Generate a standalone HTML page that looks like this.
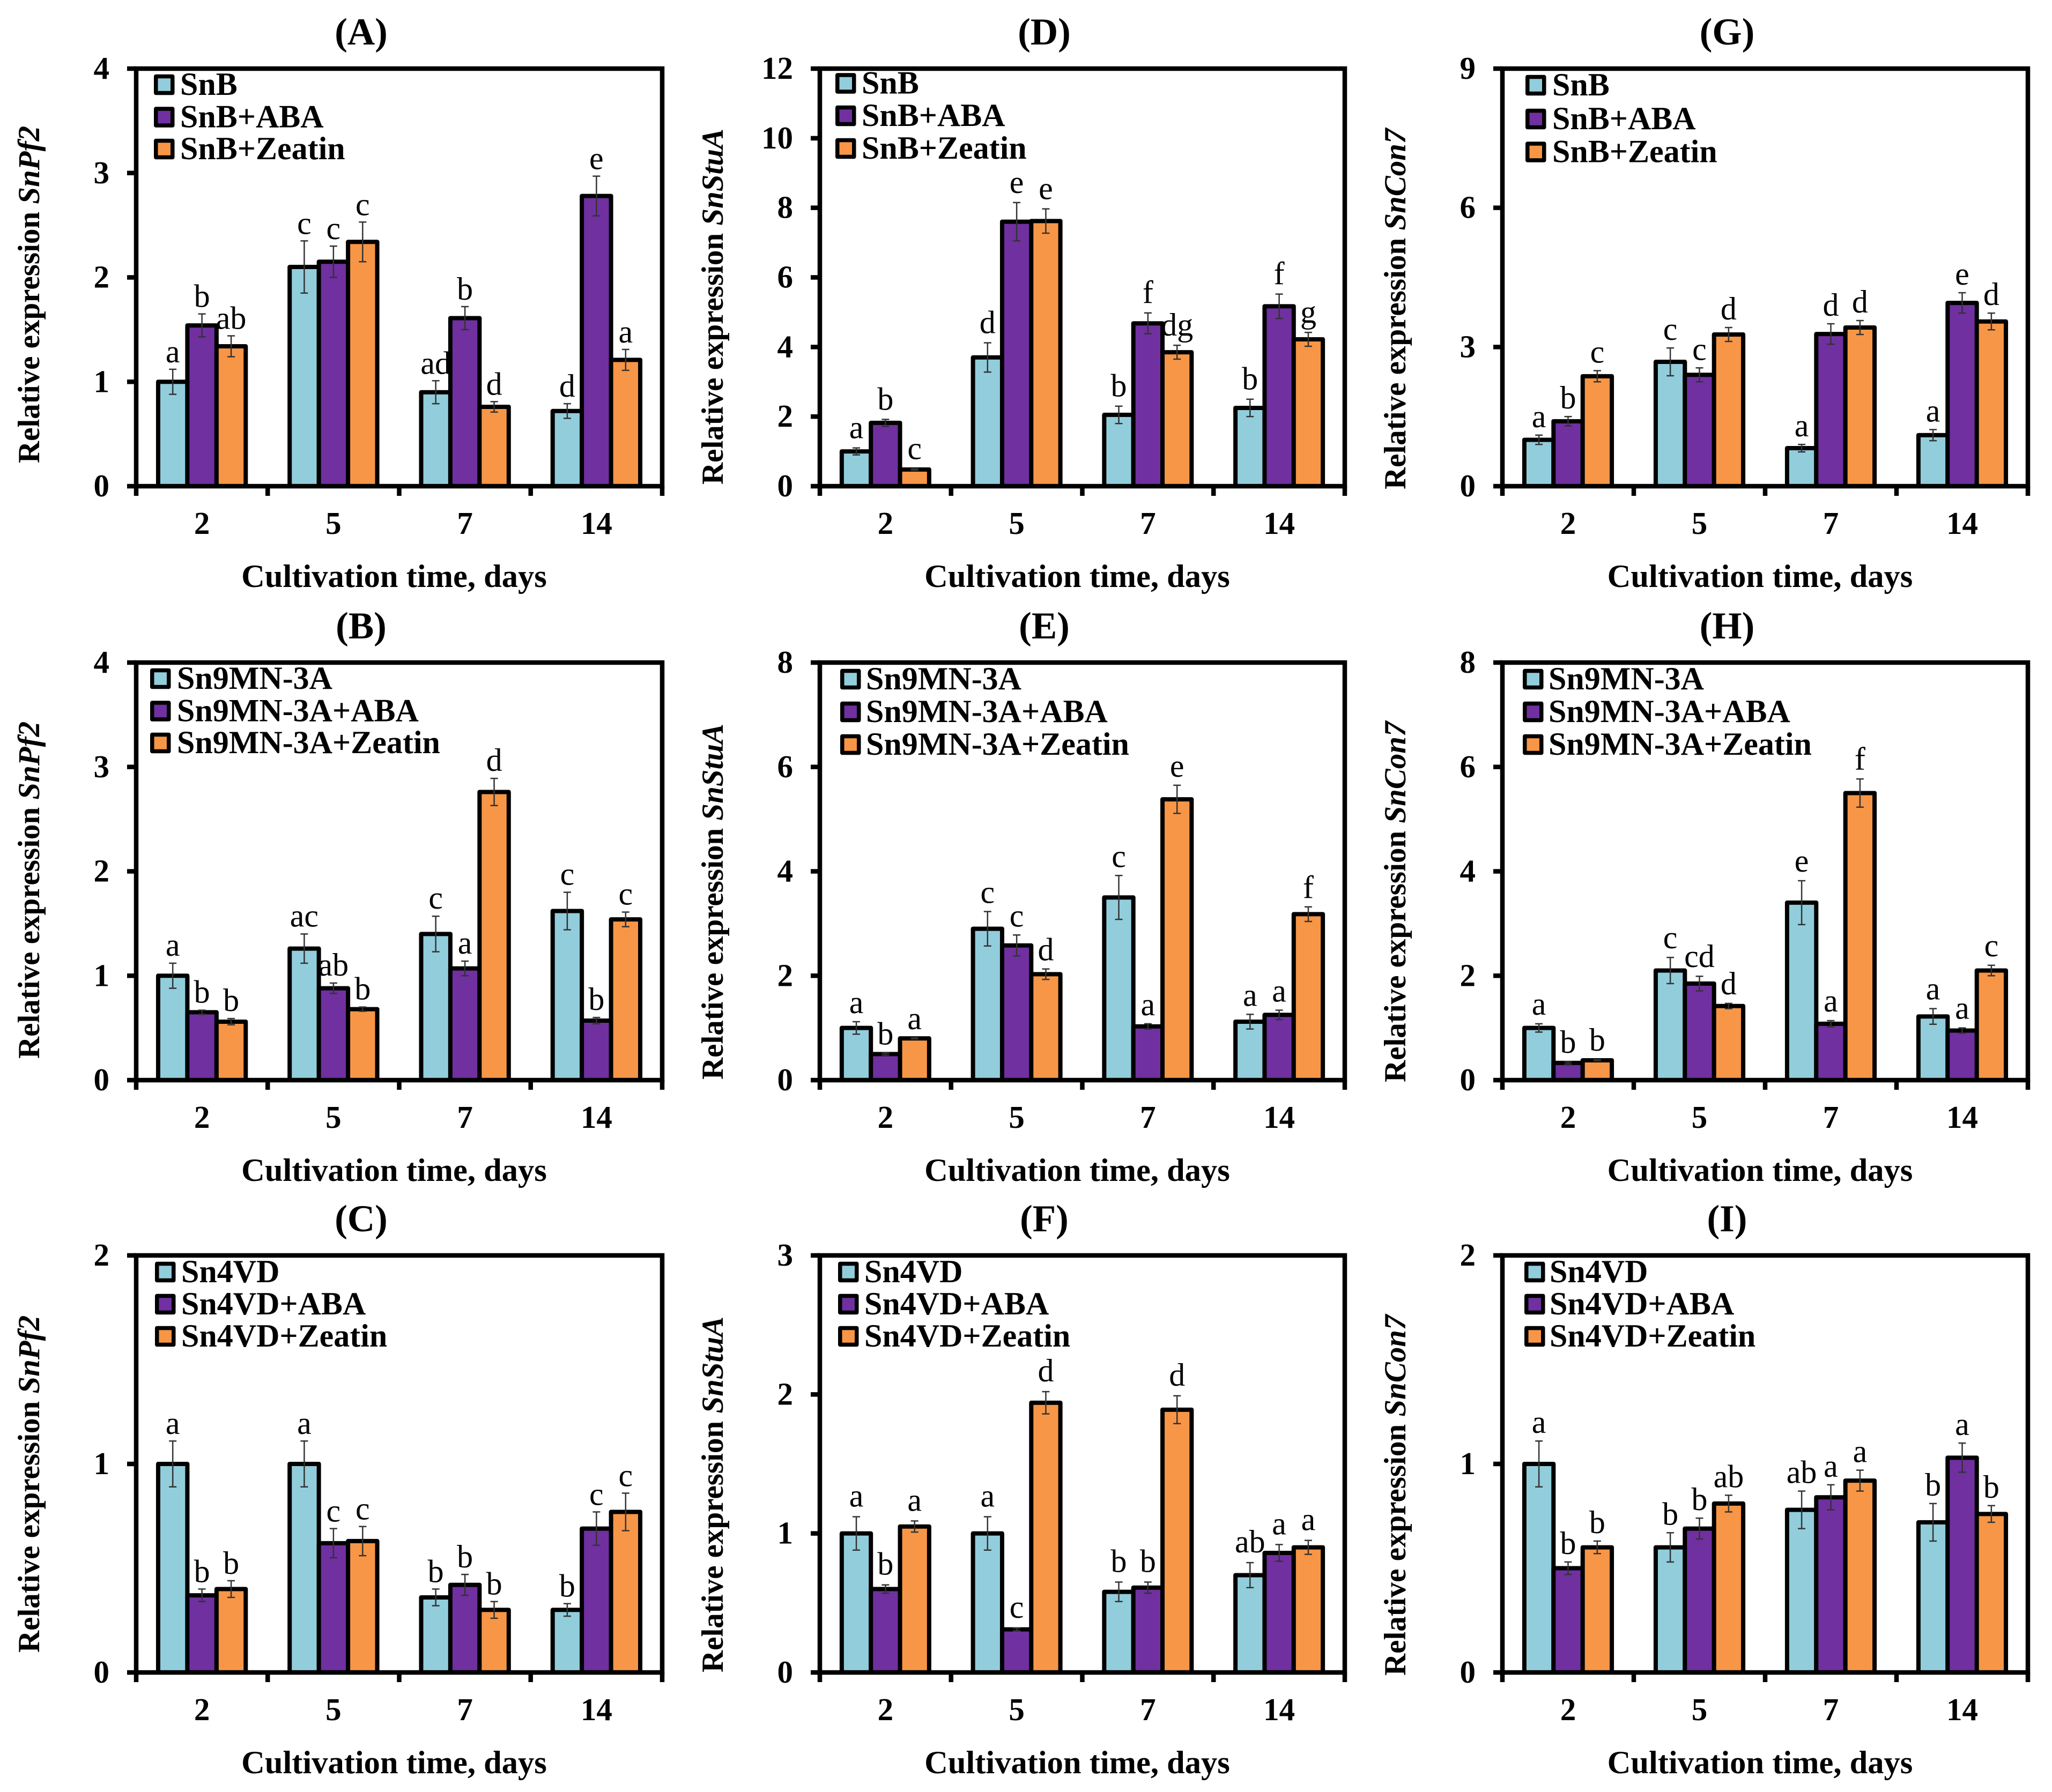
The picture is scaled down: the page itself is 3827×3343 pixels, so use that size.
<!DOCTYPE html>
<html lang="en">
<head>
<meta charset="utf-8">
<title>Relative expression bar charts</title>
<style>
html,body{margin:0;padding:0;background:#fff;}
svg{display:block;}
text{font-family:"Liberation Serif",serif;fill:#000;}
</style>
</head>
<body>
<svg id="figure" xmlns="http://www.w3.org/2000/svg" width="3827" height="3343" viewBox="0 0 3827 3343"></svg>
<script>
// Shared categories
const categories = ['2', '5', '7', '14'];
const seriesSuffixes = ['', '+ABA', '+Zeatin'];
const xAxisTitle = 'Cultivation time, days';

// Panel A
const aControl = [1.0, 2.1, 0.9, 0.72];
const aAba = [1.54, 2.15, 1.61, 2.78];
const aZeatin = [1.34, 2.34, 0.76, 1.21];
const aControlErr = [0.12, 0.25, 0.11, 0.07];
const aAbaErr = [0.11, 0.15, 0.11, 0.19];
const aZeatinErr = [0.1, 0.19, 0.05, 0.1];
const aLetters = [['a','c','ad','d'], ['b','c','b','e'], ['ab','c','d','a']];
const aTicks = [0, 1, 2, 3, 4];

// Panel B
const bControl = [1.0, 1.26, 1.4, 1.62];
const bAba = [0.65, 0.88, 1.07, 0.57];
const bZeatin = [0.56, 0.68, 2.76, 1.54];
const bControlErr = [0.12, 0.14, 0.17, 0.18];
const bAbaErr = [0.02, 0.05, 0.07, 0.03];
const bZeatinErr = [0.03, 0.02, 0.13, 0.07];
const bLetters = [['a','ac','c','c'], ['b','ab','a','b'], ['b','b','d','c']];
const bTicks = [0, 1, 2, 3, 4];

// Panel C
const cControl = [1.0, 1.0, 0.36, 0.3];
const cAba = [0.37, 0.62, 0.42, 0.69];
const cZeatin = [0.4, 0.63, 0.3, 0.77];
const cControlErr = [0.11, 0.11, 0.04, 0.03];
const cAbaErr = [0.03, 0.07, 0.05, 0.08];
const cZeatinErr = [0.04, 0.07, 0.04, 0.09];
const cLetters = [['a','a','b','b'], ['b','c','b','c'], ['b','c','b','c']];
const cTicks = [0, 1, 2];

// Panel D
const dControl = [1.0, 3.7, 2.05, 2.25];
const dAba = [1.82, 7.6, 4.68, 5.17];
const dZeatin = [0.48, 7.62, 3.85, 4.22];
const dControlErr = [0.1, 0.42, 0.25, 0.25];
const dAbaErr = [0.1, 0.55, 0.3, 0.35];
const dZeatinErr = [0.02, 0.35, 0.2, 0.2];
const dLetters = [['a','d','b','b'], ['b','e','f','f'], ['c','e','dg','g']];
const dTicks = [0, 2, 4, 6, 8, 10, 12];

// Panel E
const eControl = [1.0, 2.9, 3.5, 1.12];
const eAba = [0.5, 2.58, 1.03, 1.25];
const eZeatin = [0.8, 2.03, 5.38, 3.18];
const eControlErr = [0.12, 0.33, 0.42, 0.14];
const eAbaErr = [0.02, 0.2, 0.05, 0.09];
const eZeatinErr = [0.01, 0.1, 0.27, 0.14];
const eLetters = [['a','c','c','a'], ['b','c','a','a'], ['a','d','e','f']];
const eTicks = [0, 2, 4, 6, 8];

// Panel F
const fControl = [1.0, 1.0, 0.58, 0.7];
const fAba = [0.6, 0.31, 0.61, 0.86];
const fZeatin = [1.05, 1.94, 1.89, 0.9];
const fControlErr = [0.12, 0.12, 0.07, 0.09];
const fAbaErr = [0.03, 0.01, 0.04, 0.06];
const fZeatinErr = [0.04, 0.08, 0.1, 0.05];
const fLetters = [['a','a','b','ab'], ['b','c','b','a'], ['a','d','d','a']];
const fTicks = [0, 1, 2, 3];

// Panel G
const gControl = [1.0, 2.68, 0.82, 1.1];
const gAba = [1.4, 2.4, 3.28, 3.95];
const gZeatin = [2.37, 3.27, 3.42, 3.55];
const gControlErr = [0.1, 0.3, 0.08, 0.12];
const gAbaErr = [0.1, 0.15, 0.22, 0.22];
const gZeatinErr = [0.12, 0.15, 0.15, 0.18];
const gLetters = [['a','c','a','a'], ['b','c','d','e'], ['c','d','d','d']];
const gTicks = [0, 3, 6, 9];

// Panel H
const hControl = [1.0, 2.1, 3.4, 1.22];
const hAba = [0.33, 1.85, 1.08, 0.95];
const hZeatin = [0.38, 1.42, 5.5, 2.1];
const hControlErr = [0.08, 0.25, 0.42, 0.15];
const hAbaErr = [0.02, 0.14, 0.06, 0.05];
const hZeatinErr = [0.01, 0.05, 0.27, 0.1];
const hLetters = [['a','c','e','a'], ['b','cd','a','a'], ['b','d','f','c']];
const hTicks = [0, 2, 4, 6, 8];

// Panel I
const iControl = [1.0, 0.6, 0.78, 0.72];
const iAba = [0.5, 0.69, 0.84, 1.03];
const iZeatin = [0.6, 0.81, 0.92, 0.76];
const iControlErr = [0.11, 0.07, 0.09, 0.09];
const iAbaErr = [0.03, 0.05, 0.06, 0.07];
const iZeatinErr = [0.03, 0.04, 0.05, 0.04];
const iLetters = [['a','b','ab','b'], ['b','b','a','a'], ['b','ab','a','b']];
const iTicks = [0, 1, 2];

const panels = [
  {id:'A', gene:'SnPf2', strain:'SnB', ticks:aTicks, series:[aControl,aAba,aZeatin], errs:[aControlErr,aAbaErr,aZeatinErr], letters:aLetters, left:254, top:128, right:1235, bottom:907, legX:287, legText:336, legY:[158,218.5,278], yTitleBottom:864, yTitleX:73, letterLift:13},
  {id:'B', gene:'SnPf2', strain:'Sn9MN-3A', ticks:bTicks, series:[bControl,bAba,bZeatin], errs:[bControlErr,bAbaErr,bZeatinErr], letters:bLetters, left:254, top:1236, right:1235, bottom:2015, legX:280, legText:330, legY:[1266,1326.5,1386], yTitleBottom:1975, yTitleX:73, letterLift:14},
  {id:'C', gene:'SnPf2', strain:'Sn4VD', ticks:cTicks, series:[cControl,cAba,cZeatin], errs:[cControlErr,cAbaErr,cZeatinErr], letters:cLetters, left:254, top:2342, right:1235, bottom:3120, legX:289, legText:338, legY:[2373,2433,2493], yTitleBottom:3083, yTitleX:73, letterLift:13},
  {id:'D', gene:'SnStuA', strain:'SnB', ticks:dTicks, series:[dControl,dAba,dZeatin], errs:[dControlErr,dAbaErr,dZeatinErr], letters:dLetters, left:1529, top:128, right:2508, bottom:907, legX:1558, legText:1607, legY:[155.5,216,277], yTitleBottom:904, yTitleX:1348, letterLift:18},
  {id:'E', gene:'SnStuA', strain:'Sn9MN-3A', ticks:eTicks, series:[eControl,eAba,eZeatin], errs:[eControlErr,eAbaErr,eZeatinErr], letters:eLetters, left:1529, top:1236, right:2508, bottom:2015, legX:1567, legText:1615, legY:[1267,1328,1389], yTitleBottom:2014, yTitleX:1348, letterLift:16},
  {id:'F', gene:'SnStuA', strain:'Sn4VD', ticks:fTicks, series:[fControl,fAba,fZeatin], errs:[fControlErr,fAbaErr,fZeatinErr], letters:fLetters, left:1529, top:2342, right:2508, bottom:3120, legX:1563, legText:1612, legY:[2373,2433,2493], yTitleBottom:3120, yTitleX:1348, letterLift:19},
  {id:'G', gene:'SnCon7', strain:'SnB', ticks:gTicks, series:[gControl,gAba,gZeatin], errs:[gControlErr,gAbaErr,gZeatinErr], letters:gLetters, left:2802, top:128, right:3782, bottom:907, legX:2845, legText:2895, legY:[159,222,283.5], yTitleBottom:913, yTitleX:2621, letterLift:15},
  {id:'H', gene:'SnCon7', strain:'Sn9MN-3A', ticks:hTicks, series:[hControl,hAba,hZeatin], errs:[hControlErr,hAbaErr,hZeatinErr], letters:hLetters, left:2802, top:1236, right:3782, bottom:2015, legX:2840, legText:2888, legY:[1267,1328,1389], yTitleBottom:2019, yTitleX:2621, letterLift:17},
  {id:'I', gene:'SnCon7', strain:'Sn4VD', ticks:iTicks, series:[iControl,iAba,iZeatin], errs:[iControlErr,iAbaErr,iZeatinErr], letters:iLetters, left:2802, top:2342, right:3782, bottom:3120, legX:2843, legText:2890, legY:[2373,2433,2493], yTitleBottom:3126, yTitleX:2621, letterLift:15}
];

const seriesColors = ['#92CDDC', '#7030A0', '#F79646'];
const seriesKeys = ['control', 'aba', 'zeatin'];
const NS = 'http://www.w3.org/2000/svg';
const figure = document.getElementById('figure');

function make(parent, tag, attrs, content) {
  const node = document.createElementNS(NS, tag);
  for (const key in attrs) node.setAttribute(key, attrs[key]);
  if (content !== undefined) node.textContent = content;
  parent.appendChild(node);
  return node;
}

function yScale(p, value) {
  const maxV = p.ticks[p.ticks.length - 1];
  return p.bottom - (value / maxV) * (p.bottom - p.top);
}
function categoryWidth(p) {
  return (p.right - p.left) / categories.length;
}
function xCenter(p, catIndex) {
  return p.left + categoryWidth(p) * (catIndex + 0.5);
}
function barWidth(p) {
  return categoryWidth(p) * 0.222;
}
function xBar(p, catIndex, seriesIndex) {
  return xCenter(p, catIndex) + (seriesIndex - 1.5) * barWidth(p);
}

panels.forEach(function (p) {
  const lower = p.id.toLowerCase();
  const g = make(figure, 'g', {});
  
  

  const title = make(g, 'text', {x:(p.left + p.right) / 2 - 71, y:p.top - 45, 'text-anchor':'middle', 'font-size':71, 'font-weight':'bold'}, '(' + p.id + ')');
  
  

  // bars, error bars and significance letters drawn series by series
  p.series.forEach(function (values, s) {
    values.forEach(function (value, c) {
      const bx = xBar(p, c, s);
      const by = yScale(p, value);
      const w = barWidth(p);
      const bar = make(g, 'rect', {x:bx, y:by, width:w, height:p.bottom - by, fill:seriesColors[s], stroke:'#000', 'stroke-width':8, 'stroke-linejoin':'round'});
      
      

      const err = p.errs[s][c];
      const cx = bx + w / 2;
      const yHigh = yScale(p, value + err);
      const yLow = yScale(p, Math.max(0, value - err));
      const d = 'M' + cx + ' ' + yHigh + 'V' + yLow + 'M' + (cx - 7) + ' ' + yHigh + 'H' + (cx + 7) + 'M' + (cx - 7) + ' ' + yLow + 'H' + (cx + 7);
      const whisker = make(g, 'path', {d:d, fill:'none', stroke:'#333', 'stroke-width':2.5});
      
      

      const letter = make(g, 'text', {x:cx, y:yHigh - p.letterLift, 'text-anchor':'middle', 'font-size':60}, p.letters[s][c]);
      
      
    });
  });

  // frame
  const frame = make(g, 'rect', {x:p.left, y:p.top, width:p.right - p.left, height:p.bottom - p.top, fill:'none', stroke:'#000', 'stroke-width':8.5});
  
  

  // y ticks and labels
  p.ticks.forEach(function (tick) {
    const ty = yScale(p, tick);
    const mark = make(g, 'line', {x1:p.left - 17, x2:p.left, y1:ty, y2:ty, stroke:'#000', 'stroke-width':8.5});
    
    
    const label = make(g, 'text', {x:p.left - 50, y:ty + 19, 'text-anchor':'end', 'font-size':59, 'font-weight':'bold'}, String(tick));
    
    
  });

  // x ticks and labels
  for (let c = 0; c <= categories.length; c++) {
    const tx = p.left + categoryWidth(p) * c;
    const mark = make(g, 'line', {x1:tx, x2:tx, y1:p.bottom, y2:p.bottom + 18, stroke:'#000', 'stroke-width':8.5});
    
    
  }
  categories.forEach(function (cat, c) {
    const label = make(g, 'text', {x:xCenter(p, c), y:p.bottom + 89, 'text-anchor':'middle', 'font-size':59, 'font-weight':'bold'}, cat);
    
    
  });

  // axis titles
  const xTitle = make(g, 'text', {x:(p.left + p.right) / 2 - 9.5, y:p.bottom + 188, 'text-anchor':'middle', 'font-size':60.5, 'font-weight':'bold'}, xAxisTitle);
  
  

  const yTitle = make(g, 'text', {transform:'translate(' + p.yTitleX + ' ' + p.yTitleBottom + ') rotate(-90)', 'font-size':57, 'font-weight':'bold'}, 'Relative expression ');
  
  
  const gene = make(yTitle, 'tspan', {'font-style':'italic'}, p.gene);
  
  

  // legend
  seriesSuffixes.forEach(function (suffix, s) {
    const swatch = make(g, 'rect', {x:p.legX + 3.75, y:p.legY[s] - 15.5, width:31, height:31, fill:seriesColors[s], stroke:'#000', 'stroke-width':7.5, 'stroke-linejoin':'round'});
    
    
    const label = make(g, 'text', {x:p.legText, y:p.legY[s] + 19, 'font-size':60, 'font-weight':'bold'}, p.strain + suffix);
    
    
  });
});
</script>
</body>
</html>
